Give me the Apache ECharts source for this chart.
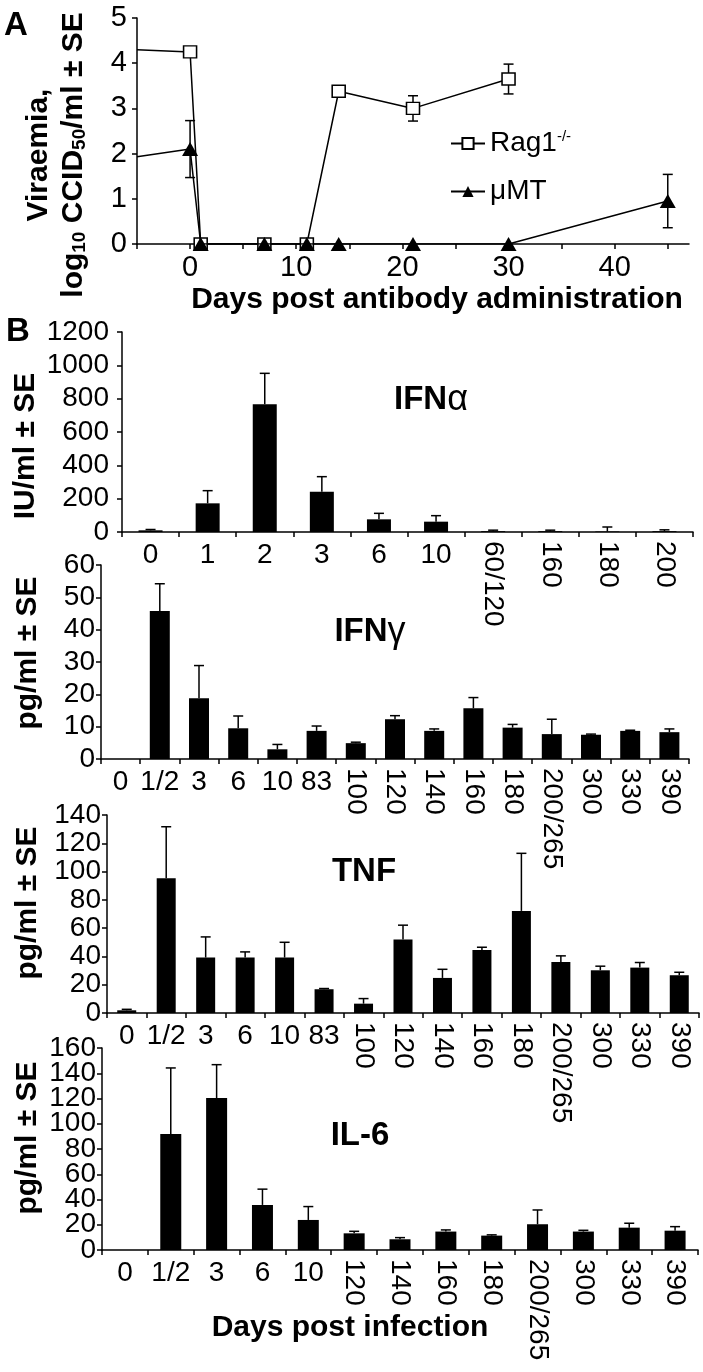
<!DOCTYPE html>
<html><head><meta charset="utf-8">
<script src="https://cdn.jsdelivr.net/npm/echarts@6/dist/echarts.min.js"></script>
<style>html,body{margin:0;padding:0;background:#fff}#c{width:703px;height:1372px}</style>
</head><body><div id="c"></div><script>
const FONT = '"Liberation Sans", Arial, Helvetica, sans-serif';

// ---------- Panel A data ----------
const ragName = 'Rag1-/-';
const mutName = 'μMT';
const ragDays = [-5, 0, 1, 7, 11, 14, 21, 30];
const ragVals = [4.3, 4.25, 0, 0, 0, 3.38, 3.0, 3.65];
const ragErr  = [0, 0, 0, 0, 0, 0, 0.28, 0.33];
const mutDays = [-5, 0, 1, 7, 11, 14, 21, 30, 45];
const mutVals = [1.93, 2.1, 0, 0, 0, 0, 0, 0, 0.95];
const mutErr  = [0, 0.63, 0, 0, 0, 0, 0, 0, 0.59];
const aTickVals  = [-5, 0, 5, 10, 15, 20, 25, 30, 35, 40, 45];
const aLabelVals = [0, 10, 20, 30, 40];

// ---------- Panel B data ----------
const ifnaCats = ['0', '1', '2', '3', '6', '10', '60/120', '160', '180', '200'];
const ifnaVals = [10, 172, 766, 242, 76, 62, 5, 5, 3, 5];
const ifnaErr  = [5, 76, 186, 90, 36, 36, 6, 6, 27, 8];

const ifngCats = ['0', '1/2', '3', '6', '10', '83', '100', '120', '140', '160', '180', '200/265', '300', '330', '390'];
const ifngVals = [0, 45.8, 18.8, 9.5, 3.0, 8.7, 4.9, 12.3, 8.7, 15.7, 9.7, 7.7, 7.5, 8.7, 8.3];
const ifngErr  = [0, 8.4, 10.1, 3.8, 1.5, 1.5, 0.3, 1.1, 0.6, 3.3, 1.0, 4.6, 0.2, 0.2, 1.0];

const tnfCats = ['0', '1/2', '3', '6', '10', '83', '100', '120', '140', '160', '180', '200/265', '300', '330', '390'];
const tnfVals = [1.9, 95.2, 39.2, 39.2, 39.2, 16.8, 6.6, 52, 24.8, 44.6, 72.2, 36.1, 30.2, 32.1, 26.7];
const tnfErr  = [0.7, 36.5, 14.6, 4, 10.8, 0.5, 3.6, 10.1, 6.1, 1.9, 40.7, 4.3, 2.9, 3.6, 2.1];

const il6Cats = ['0', '1/2', '3', '6', '10', '120', '140', '160', '180', '200/265', '300', '330', '390'];
const il6Vals = [0, 91.8, 120.4, 35.7, 23.8, 13.2, 8.5, 14.6, 11.4, 20.4, 14.6, 17.7, 15.3];
const il6Err  = [0, 52.4, 26.4, 12.5, 10.6, 1.6, 1.3, 1.3, 0.6, 11.3, 1.0, 3.5, 3.2];

// ---------- helpers ----------
const BLACK = '#000';
const axLine = {show: true, onZero: false, lineStyle: {color: BLACK, width: 1.5}};
const tick = {show: true, length: 5, lineStyle: {color: BLACK, width: 1.5}};
const isRot = s => s.length >= 3 && s !== '1/2';
const plain = v => String(v);

const grids = [
  {left: 137, top: 18, width: 552, height: 226},
  {left: 122, top: 332, width: 571, height: 200},
  {left: 101, top: 565, width: 588, height: 194},
  {left: 107, top: 815, width: 592, height: 198},
  {left: 102, top: 1048, width: 596, height: 202}
];

const xAxes = [];
const yAxes = [];
const series = [];

// Panel A axes
xAxes.push({
  type: 'value', gridIndex: 0, min: -5, max: 47, interval: 5,
  axisLine: axLine,
  axisTick: Object.assign({customValues: aTickVals}, tick),
  axisLabel: {fontFamily: FONT, fontSize: 29, color: BLACK, margin: 9, customValues: aLabelVals, formatter: plain},
  splitLine: {show: false}
});
yAxes.push({
  type: 'value', gridIndex: 0, min: 0, max: 5, interval: 1,
  axisLine: axLine, axisTick: tick,
  axisLabel: {fontFamily: FONT, fontSize: 29, color: BLACK, margin: 10, formatter: plain,
    showMinLabel: true, showMaxLabel: true},
  splitLine: {show: false}
});

function errBarsSym(days, vals, errs) {
  return {
    type: 'custom', xAxisIndex: 0, yAxisIndex: 0, z: 1,
    data: days.map((d, i) => [d, vals[i], errs[i]]).filter(r => r[2] > 0),
    renderItem: function (params, api) {
      const x = api.value(0), v = api.value(1), e = api.value(2);
      const p1 = api.coord([x, v + e]);
      const p2 = api.coord([x, v - e]);
      const st = {stroke: BLACK, lineWidth: 1.5};
      return {type: 'group', children: [
        {type: 'line', shape: {x1: p1[0], y1: p1[1], x2: p2[0], y2: p2[1]}, style: st},
        {type: 'line', shape: {x1: p1[0] - 5, y1: p1[1], x2: p1[0] + 5, y2: p1[1]}, style: st},
        {type: 'line', shape: {x1: p2[0] - 5, y1: p2[1], x2: p2[0] + 5, y2: p2[1]}, style: st}
      ]};
    },
    animation: false
  };
}
series.push(errBarsSym(ragDays, ragVals, ragErr));
series.push(errBarsSym(mutDays, mutVals, mutErr));
series.push({
  name: ragName, type: 'line', xAxisIndex: 0, yAxisIndex: 0, z: 3,
  data: ragDays.map((d, i) => d < -4 ? {value: [d, ragVals[i]], symbol: 'none'} : [d, ragVals[i]]),
  symbol: 'rect', symbolSize: [13, 12],
  lineStyle: {color: BLACK, width: 1.5},
  itemStyle: {color: '#fff', borderColor: BLACK, borderWidth: 1.5},
  animation: false
});
series.push({
  name: mutName, type: 'line', xAxisIndex: 0, yAxisIndex: 0, z: 4,
  data: mutDays.map((d, i) => d < -4 ? {value: [d, mutVals[i]], symbol: 'none'} : [d, mutVals[i]]),
  symbol: 'triangle', symbolSize: [16, 14],
  lineStyle: {color: BLACK, width: 1.5},
  itemStyle: {color: BLACK},
  animation: false
});

function barPanel(gi, cats, vals, errs, ymax, yint, barW, ymargin) {
  const xi = xAxes.length;
  xAxes.push({
    type: 'category', gridIndex: gi, data: cats, position: 'bottom',
    axisLine: axLine, axisTick: tick,
    axisLabel: {interval: 0, fontFamily: FONT, fontSize: 28, color: BLACK, margin: 9,
      showMinLabel: true, showMaxLabel: true, hideOverlap: false,
      formatter: v => isRot(v) ? '' : v}
  });
  xAxes.push({
    type: 'category', gridIndex: gi, data: cats, position: 'bottom',
    axisLine: {show: false}, axisTick: {show: false},
    axisLabel: {interval: 0, rotate: -90, fontFamily: FONT, fontSize: 28, color: BLACK, margin: 9,
      showMinLabel: true, showMaxLabel: true, hideOverlap: false,
      formatter: v => isRot(v) ? v : ''}
  });
  // labels split over two overlaid y axes so crowded labels are all kept
  const evenLabels = [], oddLabels = [];
  for (let k = 0, v = 0; v <= ymax + 1e-9; k++, v += yint) (k % 2 === 0 ? evenLabels : oddLabels).push(v);
  const yi = yAxes.length;
  const yLab = (vals) => ({fontFamily: FONT, fontSize: 28, color: BLACK, margin: ymargin,
    formatter: plain, customValues: vals, showMinLabel: true, showMaxLabel: true});
  yAxes.push({
    type: 'value', gridIndex: gi, min: 0, max: ymax, interval: yint, position: 'left',
    axisLine: axLine, axisTick: tick, axisLabel: yLab(evenLabels), splitLine: {show: false}
  });
  yAxes.push({
    type: 'value', gridIndex: gi, min: 0, max: ymax, interval: yint, position: 'left', offset: 0,
    axisLine: {show: false}, axisTick: {show: false}, axisLabel: yLab(oddLabels), splitLine: {show: false}
  });
  series.push({
    type: 'bar', xAxisIndex: xi, yAxisIndex: yi, data: vals, barWidth: barW,
    itemStyle: {color: BLACK}, animation: false
  });
  series.push({
    type: 'custom', xAxisIndex: xi, yAxisIndex: yi, z: 3,
    data: cats.map((c, i) => [i, vals[i], errs[i]]).filter(r => r[2] > 0),
    renderItem: function (params, api) {
      const x = api.value(0), v = api.value(1), e = api.value(2);
      const p0 = api.coord([x, v]);
      const p1 = api.coord([x, v + e]);
      const st = {stroke: BLACK, lineWidth: 1.5};
      return {type: 'group', children: [
        {type: 'line', shape: {x1: p0[0], y1: p0[1], x2: p1[0], y2: p1[1]}, style: st},
        {type: 'line', shape: {x1: p1[0] - 5, y1: p1[1], x2: p1[0] + 5, y2: p1[1]}, style: st}
      ]};
    },
    animation: false
  });
}
barPanel(1, ifnaCats, ifnaVals, ifnaErr, 1200, 200, 24, 13);
barPanel(2, ifngCats, ifngVals, ifngErr, 60, 10, 20, 6);
barPanel(3, tnfCats, tnfVals, tnfErr, 140, 20, 19, 6);
barPanel(4, il6Cats, il6Vals, il6Err, 160, 20, 21, 6);

// ---------- text ----------
const boldStyle = (t, size) => ({text: t, fontFamily: FONT, fontSize: size, fontWeight: 'bold', fill: BLACK, align: 'center', verticalAlign: 'middle'});
const vText = (t, x, y, size, rich) => ({type: 'text', x: x, y: y, rotation: Math.PI / 2,
  style: Object.assign(boldStyle(t, size), rich ? {rich: rich} : {})});
const hText = (t, x, y, size, rich) => ({type: 'text', x: x, y: y,
  style: Object.assign(boldStyle(t, size), rich ? {rich: rich} : {})});
const greek = {g: {fontFamily: FONT, fontSize: 36, fontWeight: 'normal', fill: BLACK}};

const graphics = [
  {type: 'text', left: 4, top: 9, style: {text: 'A', fontFamily: FONT, fontSize: 33, fontWeight: 'bold', fill: BLACK}},
  {type: 'text', left: 6, top: 315, style: {text: 'B', fontFamily: FONT, fontSize: 33, fontWeight: 'bold', fill: BLACK}},
  vText('Viraemia,', 39, 155, 30),
  vText('log{sub|10} CCID{sub|50}/ml ± SE', 74, 155, 30,
    {sub: {fontFamily: FONT, fontSize: 19, fontWeight: 'bold', fill: BLACK, padding: [12, 0, 0, 0]}}),
  hText('Days post antibody administration', 437, 300, 30),
  vText('IU/ml ± SE', 26, 446, 30),
  vText('pg/ml ± SE', 28, 653, 30),
  vText('pg/ml ± SE', 28, 903, 30),
  vText('pg/ml ± SE', 28, 1138, 30),
  hText('IFN{g|α}', 431, 400, 33, greek),
  hText('IFN{g|γ}', 370, 632, 33, greek),
  hText('TNF', 364, 872, 33),
  hText('IL-6', 360, 1136, 33),
  hText('Days post infection', 350, 1328, 30)
];

const chart = echarts.init(document.getElementById('c'), null, {renderer: 'canvas'});
chart.setOption({
  animation: false,
  backgroundColor: '#fff',
  grid: grids,
  xAxis: xAxes,
  yAxis: yAxes,
  legend: {
    data: [ragName, mutName], orient: 'vertical', left: 445, top: 124,
    itemWidth: 34, itemHeight: 14, itemGap: 20,
    textStyle: {fontFamily: FONT, fontSize: 28, color: BLACK,
      rich: {sup: {fontFamily: FONT, fontSize: 15, color: BLACK, padding: [0, 0, 14, 0]}}},
    formatter: n => n === ragName ? 'Rag1{sup|-/-}' : n
  },
  series: series,
  graphic: graphics
});
</script></body></html>
